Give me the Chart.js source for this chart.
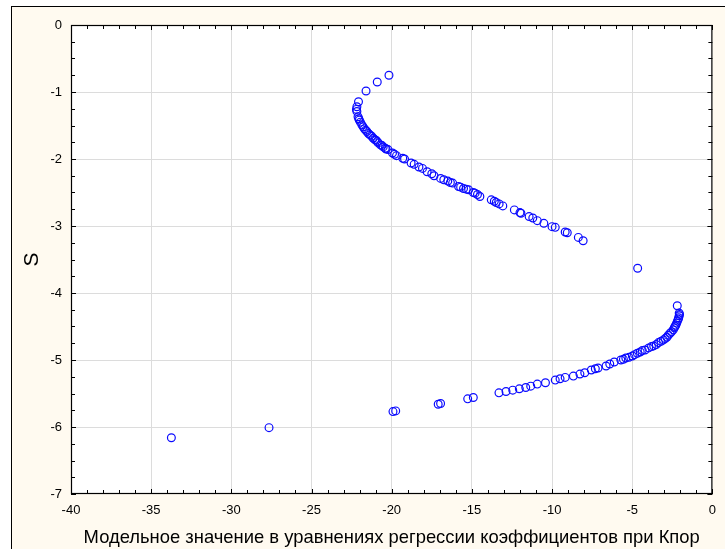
<!DOCTYPE html>
<html>
<head>
<meta charset="utf-8">
<script src="https://cdn.jsdelivr.net/npm/chart.js@4/dist/chart.umd.min.js"></script>
<style>
  html, body { margin: 0; padding: 0; background: #fff; }
  body { width: 725px; height: 549px; position: relative; overflow: hidden; }
  .frame { position: absolute; left: 11px; top: 6px; width: 720px; height: 560px;
           border-left: 1.5px solid #000; border-top: 1.5px solid #000; background: #fffaf0; }
  #chart { position: absolute; left: 0; top: 0; }
</style>
</head>
<body>
<div class="frame"></div>
<canvas id="chart" width="725" height="549"></canvas>
<script>
// ── DATA ──
const upperX = [-20.17, -20.90, -21.60, -22.07, -22.17, -22.20, -22.17, -22.10, -22.05, -22.02, -21.95, -21.86, -21.78,
  -21.70, -21.62, -21.55, -21.45, -21.35, -21.25, -21.15, -21.05, -20.98, -20.90, -20.84, -20.70, -20.60, -20.53,
  -20.40, -20.35, -20.23, -19.95, -19.82, -19.70, -19.31, -19.20, -18.79, -18.60, -18.30, -18.08, -17.79, -17.50,
  -17.36, -16.95, -16.75, -16.50, -16.34, -16.20, -15.83, -15.70, -15.52, -15.35, -15.20, -14.91, -14.80, -14.65,
  -14.50, -13.79, -13.60, -13.48, -13.30, -13.07, -12.35, -12.00, -11.94, -11.43, -11.20, -10.92, -10.51, -10.00,
  -9.80, -9.18, -9.05, -8.36, -8.06];
const upperY = [-0.75, -0.85, -0.985, -1.145, -1.22, -1.26, -1.29, -1.37, -1.40, -1.42, -1.45, -1.49, -1.52,
  -1.55, -1.57, -1.59, -1.62, -1.64, -1.66, -1.69, -1.71, -1.72, -1.74, -1.76, -1.79, -1.80, -1.82,
  -1.84, -1.85, -1.86, -1.91, -1.93, -1.95, -1.99, -2.00, -2.06, -2.08, -2.12, -2.14, -2.19, -2.22,
  -2.25, -2.29, -2.31, -2.33, -2.35, -2.36, -2.41, -2.42, -2.44, -2.45, -2.46, -2.50, -2.51, -2.53,
  -2.56, -2.61, -2.63, -2.65, -2.67, -2.70, -2.76, -2.80, -2.81, -2.86, -2.88, -2.92, -2.96, -3.01,
  -3.02, -3.09, -3.10, -3.17, -3.22];

const lowerX = [-2.19, -2.07, -2.05, -2.07, -2.10, -2.13, -2.18, -2.23, -2.28, -2.33, -2.38, -2.44, -2.55, -2.64, -2.75,
  -2.84, -2.95, -3.05, -3.20, -3.36, -3.50, -3.66, -3.80, -3.97, -4.20, -4.37, -4.50, -4.68, -4.85, -4.99, -5.20,
  -5.40, -5.55, -5.71, -6.12, -6.40, -6.63, -7.13, -7.30, -7.55, -7.96, -8.26, -8.67, -9.18, -9.50, -9.80, -10.41,
  -10.92, -11.33, -11.64, -12.04, -12.45, -12.87, -13.31, -14.91, -15.26, -16.95, -17.10, -19.75, -19.92, -27.65, -33.74];
const lowerY = [-4.19, -4.30, -4.32, -4.34, -4.37, -4.39, -4.42, -4.45, -4.48, -4.50, -4.52, -4.55, -4.58, -4.60, -4.63,
  -4.66, -4.68, -4.70, -4.72, -4.74, -4.77, -4.79, -4.80, -4.82, -4.85, -4.86, -4.88, -4.90, -4.92, -4.94, -4.96,
  -4.97, -4.99, -5.00, -5.03, -5.06, -5.09, -5.12, -5.13, -5.15, -5.19, -5.21, -5.24, -5.26, -5.28, -5.30, -5.34,
  -5.36, -5.39, -5.41, -5.43, -5.45, -5.47, -5.49, -5.56, -5.58, -5.65, -5.66, -5.76, -5.77, -6.01, -6.16];

const outlierX = [-4.66];
const outlierY = [-3.63];

const xTicks = [-40, -35, -30, -25, -20, -15, -10, -5, 0];
const yTicks = [0, -1, -2, -3, -4, -5, -6, -7];

const xTitle = 'Модельное значение в уравнениях регрессии коэффициентов при Кпор';
const yTitle = 'S';

// ── helpers ──
const FF = "'Liberation Sans', Arial, sans-serif";
const toPts = (xs, ys) => xs.map((x, i) => ({ x, y: ys[i] }));
const points = [...toPts(upperX, upperY), ...toPts(outlierX, outlierY), ...toPts(lowerX, lowerY)];

const PLOT = { left: 71, top: 25, right: 723, bottom: 494 };

// white plot area, black frame, inward ticks on all four sides
const framePlugin = {
  id: 'frame',
  beforeDraw(chart) {
    const { ctx, chartArea: a } = chart;
    ctx.save();
    ctx.fillStyle = '#ffffff';
    ctx.fillRect(a.left, a.top, a.right - a.left, a.bottom - a.top);
    ctx.restore();
  },
  beforeDatasetsDraw(chart) {
    const { ctx, chartArea: a, scales } = chart;
    ctx.save();
    ctx.strokeStyle = '#000';
    ctx.lineWidth = 1;
    ctx.beginPath();
    for (let v = -40; v <= 0; v += 1) {
      const px = Math.round(scales.x.getPixelForValue(v)) + 0.5;
      const len = v % 5 === 0 ? 5 : 4;
      ctx.moveTo(px, a.bottom); ctx.lineTo(px, a.bottom - len);
      ctx.moveTo(px, a.top); ctx.lineTo(px, a.top + len);
    }
    for (let v = 0; v >= -7; v -= 0.25) {
      const py = Math.round(scales.y.getPixelForValue(v)) + 0.5;
      const len = Number.isInteger(v) ? 5 : 4;
      ctx.moveTo(a.left, py); ctx.lineTo(a.left + len, py);
      ctx.moveTo(a.right, py); ctx.lineTo(a.right - len, py);
    }
    ctx.stroke();
    ctx.lineWidth = 1.2;
    ctx.strokeRect(a.left + 0.5, a.top + 0.5, a.right - a.left - 1, a.bottom - a.top - 1);
    ctx.restore();
  }
};

const gridColor = (edgeVals) => (c) => edgeVals.includes(c.tick.value) ? 'rgba(0,0,0,0)' : '#dcdcdc';

new Chart(document.getElementById('chart'), {
  type: 'scatter',
  data: {
    datasets: [{
      data: points,
      pointStyle: 'circle',
      pointRadius: 3.9,
      pointBorderWidth: 1.2,
      pointBorderColor: '#0a0aff',
      pointBackgroundColor: 'rgba(0,0,0,0)',
      showLine: false,
    }]
  },
  options: {
    responsive: false,
    animation: false,
    events: [],
    layout: { autoPadding: false, padding: { top: PLOT.top, right: 725 - PLOT.right, left: 0, bottom: 0 } },
    plugins: { legend: { display: false }, tooltip: { enabled: false } },
    scales: {
      x: {
        type: 'linear', min: -40, max: 0,
        afterBuildTicks: (s) => { s.ticks = xTicks.map(v => ({ value: v })); },
        afterFit: (s) => { s.height = 549 - PLOT.bottom; },
        grid: { color: gridColor([-40, 0]), lineWidth: 1, drawTicks: false },
        border: { display: false },
        ticks: { color: '#000', padding: 9, maxRotation: 0, autoSkip: false, font: { family: FF, size: 13 } },
        title: { display: true, text: xTitle, color: '#000', font: { family: FF, size: 18.4 }, padding: { top: 0, bottom: 0.5 } }
      },
      y: {
        type: 'linear', min: -7, max: 0,
        afterBuildTicks: (s) => { s.ticks = yTicks.map(v => ({ value: v })); },
        afterFit: (s) => { s.width = PLOT.left; },
        grid: { color: gridColor([0, -7]), lineWidth: 1, drawTicks: false },
        border: { display: false },
        ticks: { color: '#000', padding: 9, autoSkip: false, font: { family: FF, size: 13 } },
        title: { display: true, text: yTitle, color: '#000', font: { family: FF, size: 21 }, padding: { top: 20, bottom: 0 } }
      }
    }
  },
  plugins: [framePlugin]
});
</script>
</body>
</html>
